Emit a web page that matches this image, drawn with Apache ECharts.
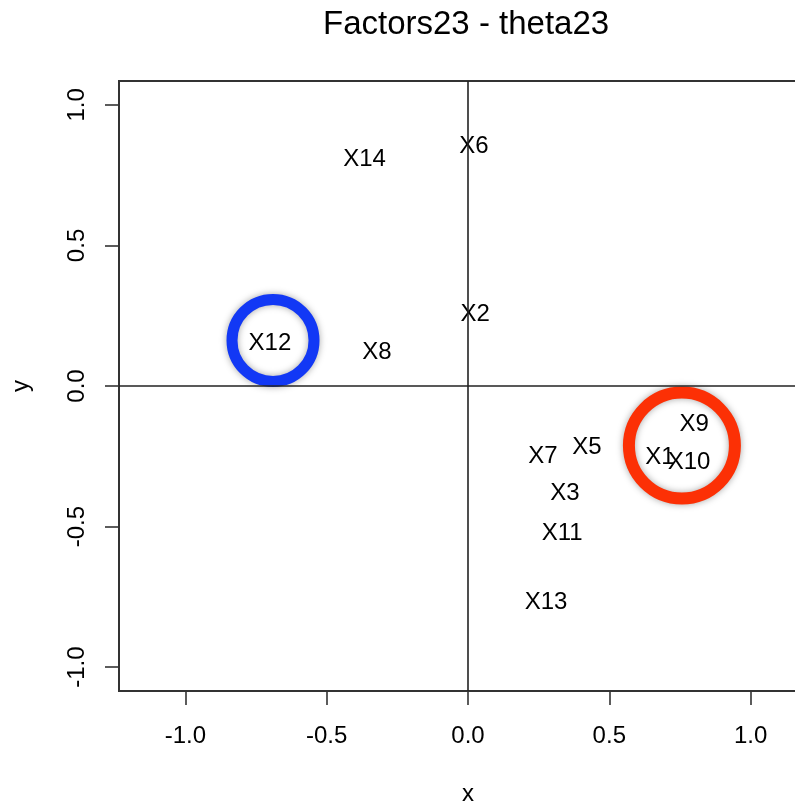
<!DOCTYPE html>
<html>
<head>
<meta charset="utf-8">
<script src="https://cdn.jsdelivr.net/npm/echarts@6/dist/echarts.min.js"></script>
<style>
  html, body { margin: 0; padding: 0; background: #fff; }
  #chart { width: 795px; height: 807px; }
</style>
</head>
<body>
<div id="chart"></div>
<script>
// Variable loadings on factors 2 and 3
const varNames = ['X1', 'X2', 'X3', 'X5', 'X6', 'X7', 'X8', 'X9', 'X10', 'X11', 'X12', 'X13', 'X14'];
const loadX = [0.679, 0.025, 0.343, 0.421, 0.021, 0.265, -0.322, 0.800, 0.782, 0.333, -0.701, 0.276, -0.366];
const loadY = [-0.249, 0.260, -0.377, -0.213, 0.859, -0.245, 0.125, -0.130, -0.266, -0.519, 0.157, -0.765, 0.811];

// Tick positions on both axes
const tickValues = [-1.0, -0.5, 0.0, 0.5, 1.0];

// Highlighted groups (centre of each ring)
const blueGroup = [-0.69, 0.162];
const redGroup = [0.757, -0.212];

const FONT = "'Liberation Sans', Arial, Helvetica, sans-serif";

const labelData = varNames.map((n, i) => ({ name: n, value: [loadX[i], loadY[i]] }));

const chart = echarts.init(document.getElementById('chart'), null, { renderer: 'canvas' });

const axisCommon = {
  type: 'value',
  splitLine: { show: false },
  axisLine: { show: false, onZero: false },
  axisTick: {
    show: true,
    inside: false,
    length: 14,
    customValues: tickValues,
    lineStyle: { color: '#333', width: 1.6 }
  },
  axisLabel: {
    show: true,
    customValues: tickValues,
    formatter: v => Number(v).toFixed(1),
    color: '#000',
    fontFamily: FONT,
    fontSize: 24
  },
  nameLocation: 'middle',
  nameTextStyle: { color: '#000', fontFamily: FONT, fontSize: 24 }
};

chart.setOption({
  animation: false,
  backgroundColor: '#fff',
  title: {
    text: 'Factors23 - theta23',
    left: 318,
    top: 3,
    textStyle: { color: '#000', fontFamily: FONT, fontSize: 33, fontWeight: 'normal' }
  },
  grid: {
    left: 119,
    top: 81,
    width: 698,
    height: 610,
    show: true,
    borderColor: '#333',
    borderWidth: 2,
    backgroundColor: 'transparent',
    containLabel: false,
    outerBoundsMode: 'none'
  },
  xAxis: Object.assign({}, axisCommon, {
    min: -1.235,
    max: 1.235,
    name: 'x',
    nameGap: 91,
    axisLabel: Object.assign({}, axisCommon.axisLabel, { margin: 33 })
  }),
  yAxis: Object.assign({}, axisCommon, {
    min: -1.085,
    max: 1.085,
    name: 'y',
    nameGap: 86,
    nameRotate: 90,
    axisLabel: Object.assign({}, axisCommon.axisLabel, { margin: 30, rotate: 90 })
  }),
  series: [
    {
      // zero reference lines
      type: 'line',
      data: [],
      silent: true,
      markLine: {
        silent: true,
        symbol: ['none', 'none'],
        label: { show: false },
        lineStyle: { color: '#222', width: 1.6, type: 'solid' },
        data: [{ xAxis: 0 }, { yAxis: 0 }]
      }
    },
    {
      // blue ring
      type: 'scatter',
      silent: true,
      symbol: 'circle',
      symbolSize: 82,
      itemStyle: {
        opacity: 1,
        color: 'rgba(0,0,0,0)',
        borderColor: '#1238f5',
        borderWidth: 11,
        shadowBlur: 7,
        shadowColor: 'rgba(0,0,0,0.35)'
      },
      data: [blueGroup],
      z: 3
    },
    {
      // red ring
      type: 'scatter',
      silent: true,
      symbol: 'circle',
      symbolSize: 106,
      itemStyle: {
        opacity: 1,
        color: 'rgba(0,0,0,0)',
        borderColor: '#fc3005',
        borderWidth: 12,
        shadowBlur: 7,
        shadowColor: 'rgba(0,0,0,0.35)'
      },
      data: [redGroup],
      z: 3
    },
    {
      // variable names drawn at their loadings
      type: 'scatter',
      symbolSize: 1,
      itemStyle: { opacity: 1, color: 'rgba(0,0,0,0)' },
      label: {
        show: true,
        position: 'inside',
        offset: [0, 1.5],
        formatter: p => p.name,
        color: '#000',
        textBorderWidth: 0,
        fontFamily: FONT,
        fontSize: 24
      },
      data: labelData,
      z: 4
    }
  ]
});
</script>
</body>
</html>
